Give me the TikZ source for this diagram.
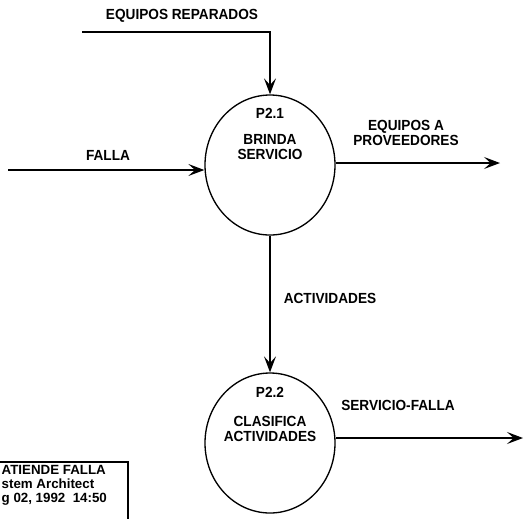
\documentclass[tikz,border=0pt]{standalone}
\usepackage{fontspec}
\setmainfont{Liberation Sans}
\newfontfamily\dfdfont[FakeStretch=0.93]{Liberation Sans}
\usetikzlibrary{shapes.geometric,arrows.meta}
\begin{document}
\begin{tikzpicture}[x=0.75pt, y=-0.75pt,
            line width=1pt,
            process/.style = {draw, ellipse, minimum width=97.5pt, minimum height=105pt, inner sep=0pt},
            flow/.style = {-{Stealth[length=12pt, width=9pt, inset=5pt]}},
            lbl/.style = {font=\dfdfont\fontsize{11}{11.2}\selectfont\bfseries, align=center, inner sep=0pt},
            stamp/.style = {font=\fontsize{10}{10.3}\selectfont\bfseries, align=left, inner sep=0pt}]
\useasboundingbox (0,0) rectangle (524,519);
\clip (0,0) rectangle (524,519);
\node (p21) [process] at (270,165) {};
\node (p22) [process] at (270,443) {};
\node (p21id) [lbl] at (270,113) {P2.1};
\node (p21name) [lbl] at (270,147) {BRINDA\\SERVICIO};
\node (p22id) [lbl] at (270,392) {P2.2};
\node (p22name) [lbl] at (270,429) {CLASIFICA\\ACTIVIDADES};
\coordinate (repIn) at (82,32);
\coordinate (fallaIn) at (8,170);
\coordinate (provOut) at (500,163);
\coordinate (servOut) at (523,438);
\draw[flow] (repIn) -| (p21);
\draw[flow] (fallaIn) -- (fallaIn -| p21.west);
\draw[flow] (p21.east |- provOut) -- (provOut);
\draw[flow] (p21) -- (p22);
\draw[flow] (p22.east |- servOut) -- (servOut);
\node (repLbl) [lbl] at (182,16) {EQUIPOS REPARADOS};
\node (fallaLbl) [lbl] at (108,155) {FALLA};
\node (provLbl) [lbl, font=\dfdfont\fontsize{11}{9.2}\selectfont\bfseries] at (406,133) {EQUIPOS A\\PROVEEDORES};
\node (actLbl) [lbl] at (330,298) {ACTIVIDADES};
\node (servLbl) [lbl] at (398,405) {SERVICIO-FALLA};
\draw[line width=0.8pt] (0,462) -| (128,519);
\node (stampTxt) [stamp, anchor=north west] at (1,465) {ATIENDE FALLA\\stem Architect\\g 02, 1992~~14:50};
\end{tikzpicture}
\end{document}
